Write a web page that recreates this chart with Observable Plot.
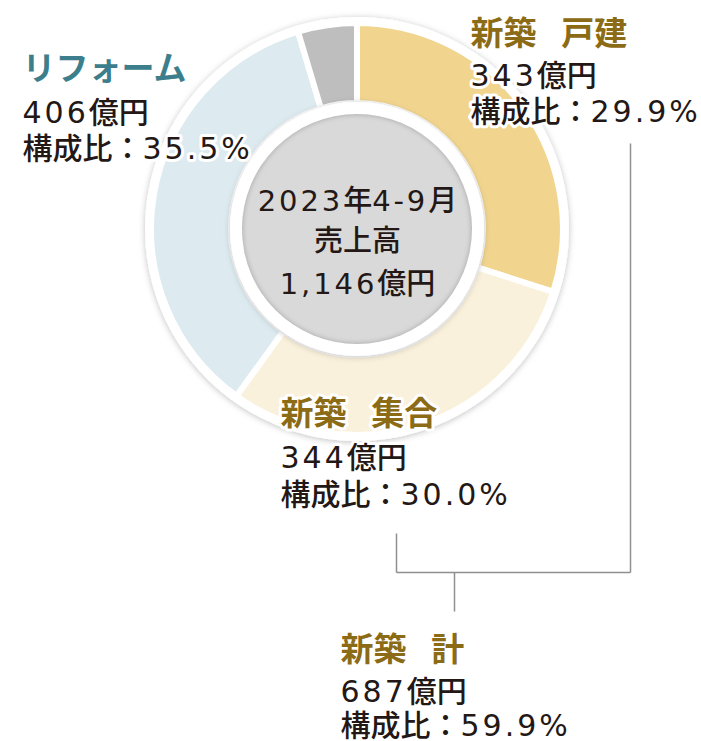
<!DOCTYPE html>
<html>
<head>
<meta charset="utf-8">
<script src="https://cdn.jsdelivr.net/npm/d3@7"></script>
<script src="https://cdn.jsdelivr.net/npm/@observablehq/plot@0.6"></script>
<style>
  html, body { margin: 0; padding: 0; background: #ffffff; }
  #chart svg { display: block; }
  #chart svg text { paint-order: stroke; }
  #chart svg text.title { word-spacing: 0.4em; }
</style>
</head>
<body>
<div id="chart"></div>
<script>
// ---- data ----
const categories = ["新築 戸建", "新築 集合", "リフォーム", "その他"];
const amounts = [343, 344, 406, 53];
const shares = ["29.9%", "30.0%", "35.5%", "4.6%"];
const sliceColors = ["#F1D58F", "#FAF1DC", "#DDEBF1", "#BEBEBE"];
const titleColors = ["#8C6B16", "#8C6B16", "#3C7E8B", "#8C6B16"];
const centerLines = ["2023年4-9月", "売上高", "1,146億円"];
const subtotalName = "新築 計";
const subtotalAmount = 687;
const subtotalShare = "59.9%";
const unit = "億円";
const shareLabel = "構成比：";

// ---- layout ----
const donutCenter = {x: 357, y: 229};
const radii = {rim: 212, outer: 206, inner: 126, hub: 115};
const labelSpots = [
  {x: 470, y: [44, 85, 121]},
  {x: 280, y: [424, 467, 504]},
  {x: 22, y: [79, 122, 158]},
  null
];
const subtotalSpot = {x: 340, y: [660, 701, 735]};
const centerBaselines = [210, 250, 293];
const bracket = [
  {x1: 630, y1: 143, x2: 630, y2: 572},
  {x1: 396, y1: 533, x2: 396, y2: 572},
  {x1: 396, y1: 572, x2: 630, y2: 572},
  {x1: 454, y1: 572, x2: 454, y2: 611}
];

const slices = categories.map((name, i) => ({name, value: amounts[i], color: sliceColors[i]}));

const titleRows = [], valueRows = [];
categories.forEach((name, i) => {
  const s = labelSpots[i];
  if (!s) return;
  titleRows.push({x: s.x, y: s.y[0], text: name, color: titleColors[i]});
  valueRows.push({x: s.x, y: s.y[1], text: amounts[i] + unit});
  valueRows.push({x: s.x, y: s.y[2], text: shareLabel + shares[i]});
});
titleRows.push({x: subtotalSpot.x, y: subtotalSpot.y[0], text: subtotalName, color: titleColors[0]});
valueRows.push({x: subtotalSpot.x, y: subtotalSpot.y[1], text: subtotalAmount + unit});
valueRows.push({x: subtotalSpot.x, y: subtotalSpot.y[2], text: shareLabel + subtotalShare});
const centerRows = centerLines.map((t, i) => ({x: donutCenter.x, y: centerBaselines[i], text: t}));

function donutMark(index, scales) {
  const cx = scales.x(donutCenter.x), cy = scales.y(donutCenter.y);
  const g = d3.create("svg:g").attr("transform", `translate(${cx},${cy})`);
  const defs = g.append("defs");
  const f = defs.append("filter").attr("id", "softShadow")
    .attr("x", "-20%").attr("y", "-20%").attr("width", "140%").attr("height", "140%");
  f.append("feDropShadow").attr("dx", 0).attr("dy", 1).attr("stdDeviation", 3)
    .attr("flood-color", "#000").attr("flood-opacity", 0.25);
  const blur = defs.append("filter").attr("id", "hubBlur")
    .attr("x", "-20%").attr("y", "-20%").attr("width", "140%").attr("height", "140%");
  blur.append("feGaussianBlur").attr("stdDeviation", 2.5);
  defs.append("clipPath").attr("id", "hubClip").append("circle").attr("r", radii.hub);

  g.append("circle").attr("r", radii.rim).attr("fill", "white").attr("filter", "url(#softShadow)");
  const arcs = d3.pie().sort(null).value(d => d.value)(slices);
  const arc = d3.arc().innerRadius(radii.inner).outerRadius(radii.outer);
  g.selectAll("path.slice").data(arcs).join("path")
    .attr("class", "slice")
    .attr("d", arc)
    .attr("fill", d => d.data.color)
    .attr("stroke", "white")
    .attr("stroke-width", 6)
    .attr("stroke-linejoin", "round");
  g.append("circle").attr("r", radii.inner + 1).attr("fill", "white").attr("filter", "url(#softShadow)");
  g.append("circle").attr("r", radii.hub).attr("fill", "#D9D9D9");
  g.append("g").attr("clip-path", "url(#hubClip)")
    .append("circle").attr("r", radii.hub + 2).attr("fill", "none")
    .attr("stroke", "rgba(0,0,0,0.22)").attr("stroke-width", 5).attr("filter", "url(#hubBlur)");
  return g.node();
}

const fontStack = "'DejaVu Sans', 'Noto Sans CJK JP', sans-serif";

const plot = Plot.plot({
  width: 701,
  height: 741,
  margin: 0,
  x: {domain: [0, 701], range: [0, 701], axis: null},
  y: {domain: [0, 741], range: [0, 741], axis: null},
  color: {type: "identity"},
  style: {fontFamily: fontStack, background: "white"},
  marks: [
    donutMark,
    Plot.link(bracket, {x1: "x1", y1: "y1", x2: "x2", y2: "y2", stroke: "#8f8f8f", strokeWidth: 1.5}),
    Plot.text(centerRows, {x: "x", y: "y", text: "text", textAnchor: "middle", lineAnchor: "bottom",
      fontSize: 29, fontWeight: 500, fill: "#231815"}),
    Plot.text(titleRows, {x: "x", y: "y", text: "text", textAnchor: "start", lineAnchor: "bottom",
      fontSize: 33, fontWeight: 600, fill: "color", stroke: "white", strokeWidth: 6, strokeLinejoin: "round"}),
    Plot.text(valueRows, {x: "x", y: "y", text: "text", textAnchor: "start", lineAnchor: "bottom",
      fontSize: 30, fontWeight: 500, fill: "#231815", stroke: "white", strokeWidth: 6, strokeLinejoin: "round"})
  ]
});

document.getElementById("chart").appendChild(plot);

// mark title texts for word spacing, widen digit runs with tracking
const ns = "http://www.w3.org/2000/svg";
const titleSet = new Set(titleRows.map(d => d.text));
plot.querySelectorAll("text").forEach(t => {
  if (t.querySelector("tspan")) return;
  const s = t.textContent;
  if (titleSet.has(s)) { t.classList.add("title"); return; }
  const parts = s.match(/[0-9.,%\-]+|[^0-9.,%\-]+/g) || [];
  t.textContent = "";
  parts.forEach(p => {
    const ts = document.createElementNS(ns, "tspan");
    ts.textContent = p;
    if (/^[0-9.,%\-]/.test(p)) ts.setAttribute("letter-spacing", "0.1em");
    t.appendChild(ts);
  });
});
</script>
</body>
</html>
